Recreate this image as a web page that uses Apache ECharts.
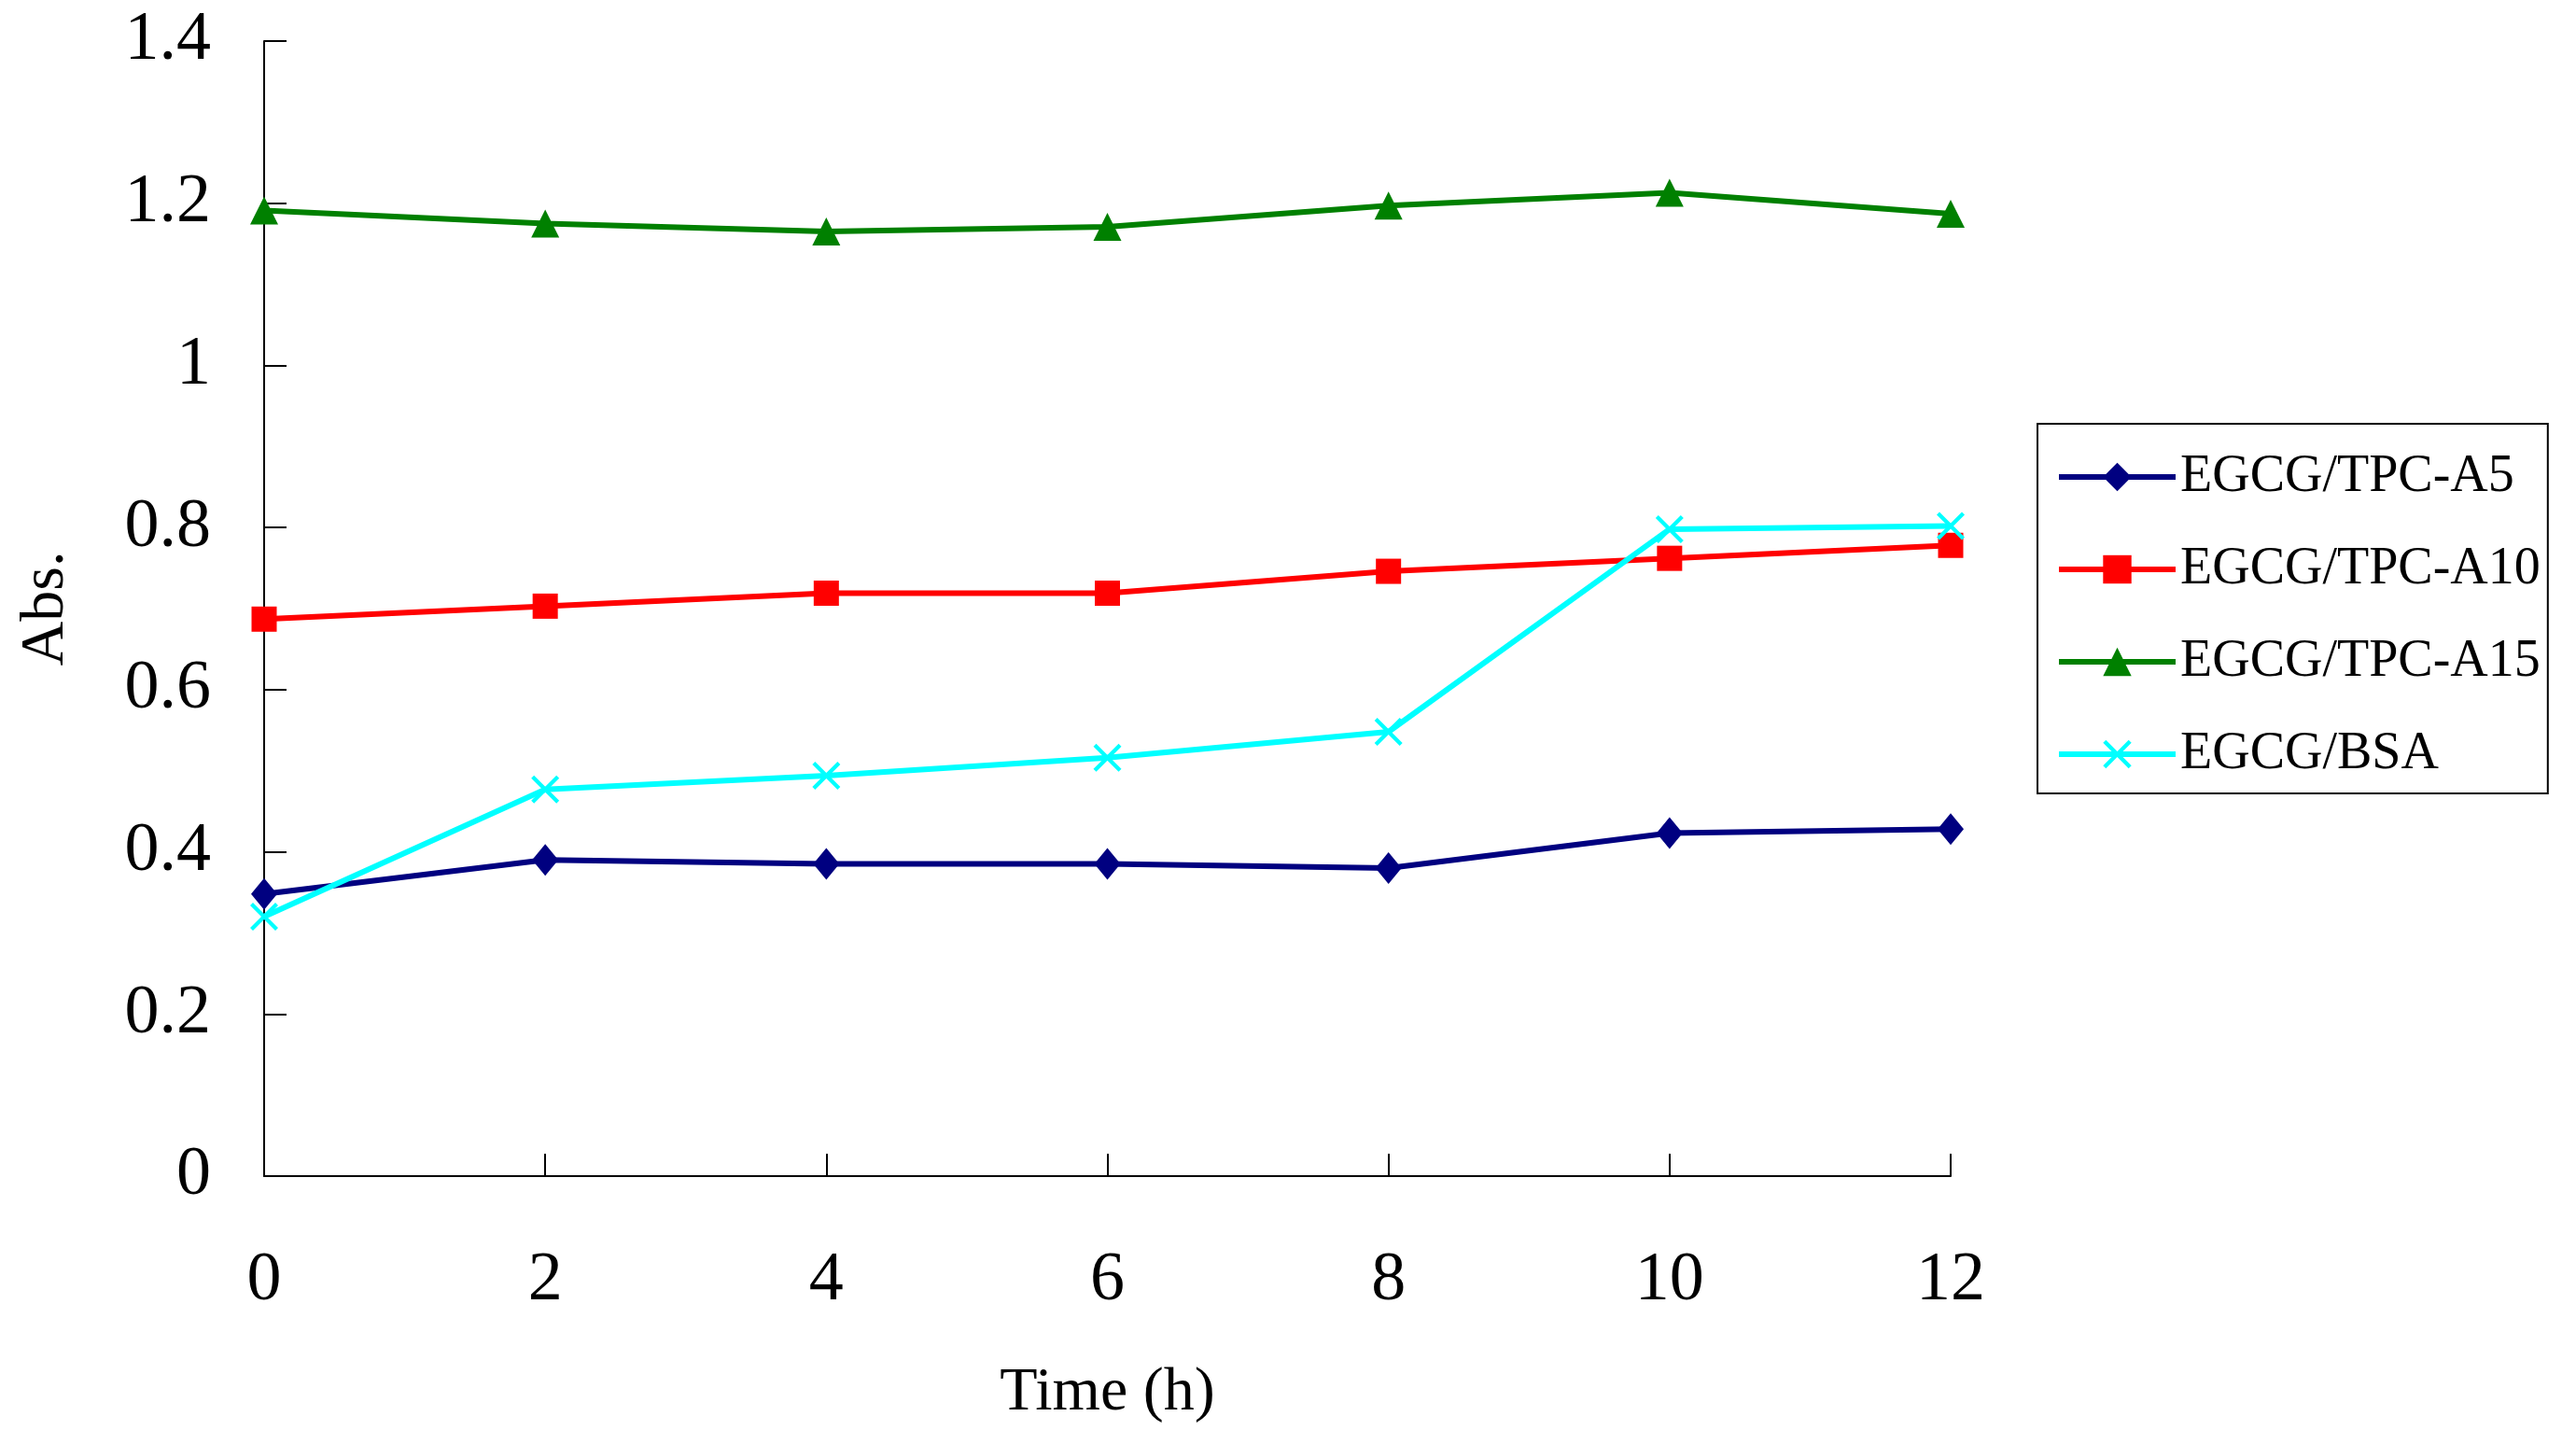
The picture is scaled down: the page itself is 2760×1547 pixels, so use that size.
<!DOCTYPE html>
<html lang="en">

<head>
  <meta charset="UTF-8">
  <title>Abs. vs Time</title>
  <script src="https://cdn.jsdelivr.net/npm/echarts@6/dist/echarts.min.js"></script>
  <style>
    html, body { margin: 0; padding: 0; background: #fff; }
    #main { width: 2760px; height: 1547px; }
  </style>
</head>

<body>
  <div id="main"></div>
  <script>
    // data
    const hours = [0, 2, 4, 6, 8, 10, 12]
    const tpcA5 = [0.348, 0.390, 0.385, 0.385, 0.380, 0.423, 0.428]
    const tpcA10 = [0.687, 0.703, 0.719, 0.719, 0.746, 0.762, 0.778]
    const tpcA15 = [1.191, 1.175, 1.165, 1.171, 1.197, 1.213, 1.187]
    const bsa = [0.320, 0.477, 0.494, 0.516, 0.548, 0.798, 0.802]

    const names = ['EGCG/TPC-A5', 'EGCG/TPC-A10', 'EGCG/TPC-A15', 'EGCG/BSA']

    const serif = "'Liberation Serif', 'DejaVu Serif', serif"
    // an "x" cross as a filled polygon
    const cross = 'path://M0,1 L1,0 L5,4 L9,0 L10,1 L6,5 L10,9 L9,10 L5,6 L1,10 L0,9 L4,5 Z'

    const zip = vals => hours.map((h, i) => [h, vals[i]])

    function line(name, vals, color, symbol, size) {
      return {
        name: name,
        type: 'line',
        data: zip(vals),
        symbol: symbol,
        symbolSize: size,
        showAllSymbol: true,
        lineStyle: { color: color, width: 6 },
        itemStyle: { color: color },
        emphasis: { disabled: true }
      }
    }

    let myChart = echarts.init(document.querySelector('#main'))

    let option = {
      animation: false,
      backgroundColor: '#fff',
      grid: { left: 283, right: 670, top: 44, bottom: 287 },
      legend: {
        orient: 'vertical',
        left: 2183,
        top: 454,
        data: names,
        itemWidth: 125,
        itemHeight: 38,
        itemGap: 39,
        padding: [27, 8, 12, 20],
        borderColor: '#000',
        borderWidth: 2,
        lineStyle: { width: 6 },
        textStyle: { fontFamily: serif, fontSize: 56, color: '#000', lineHeight: 60 }
      },
      xAxis: {
        type: 'value',
        min: 0,
        max: 12,
        interval: 2,
        name: 'Time (h)',
        nameLocation: 'middle',
        nameGap: 200,
        nameTextStyle: { fontFamily: serif, fontSize: 66, color: '#000' },
        axisLine: { lineStyle: { color: '#000', width: 2 } },
        axisTick: { inside: true, length: 24, lineStyle: { color: '#000', width: 2 } },
        axisLabel: { margin: 76, fontFamily: serif, fontSize: 74, color: '#000' },
        splitLine: { show: false }
      },
      yAxis: {
        type: 'value',
        min: 0,
        max: 1.4,
        interval: 0.2,
        name: 'Abs.',
        nameLocation: 'middle',
        nameGap: 200,
        nameTextStyle: { fontFamily: serif, fontSize: 66, color: '#000' },
        axisLine: { show: true, lineStyle: { color: '#000', width: 2 } },
        axisTick: { show: true, inside: true, length: 24, lineStyle: { color: '#000', width: 2 } },
        axisLabel: { margin: 57, fontFamily: serif, fontSize: 74, color: '#000' },
        splitLine: { show: false }
      },
      series: [
        line(names[0], tpcA5, '#000080', 'diamond', [28, 34]),
        line(names[1], tpcA10, '#ff0000', 'rect', 27),
        line(names[2], tpcA15, '#008000', 'triangle', 30),
        line(names[3], bsa, '#00ffff', cross, 30)
      ]
    }

    myChart.setOption(option)
  </script>
</body>

</html>
